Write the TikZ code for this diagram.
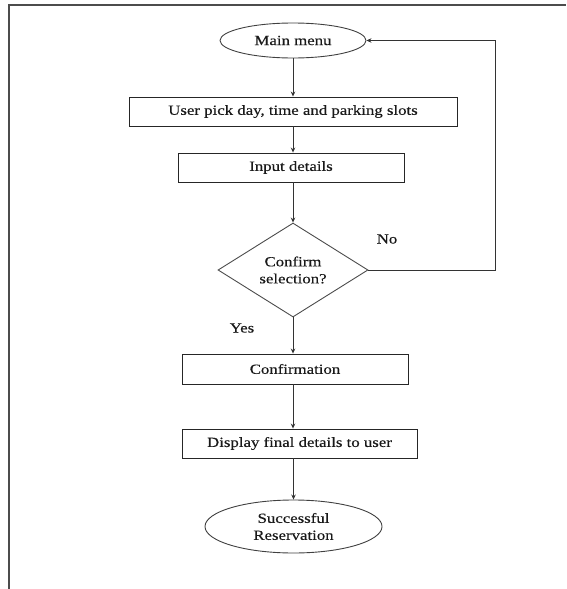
\documentclass[tikz,border=0pt]{standalone}
\usepackage{fontspec}
\setmainfont{Liberation Serif}[FakeStretch=1.2, FakeBold=0.3]
\usetikzlibrary{arrows.meta,shapes.geometric}
\begin{document}
\begin{tikzpicture}[x=1pt,y=-1pt,
  every node/.style={font=\fontsize{14}{17}\selectfont, text=black!90},
  proc/.style={draw=black!85, line width=0.9pt, minimum height=29pt, inner sep=0pt},
  term/.style={ellipse, draw=black!75, line width=0.9pt, inner sep=0pt, align=center},
  decide/.style={diamond, draw=black!70, line width=0.9pt, inner sep=0pt, aspect=1.6,
                 minimum width=150pt, minimum height=94pt, align=center},
  flow/.style={draw=black!80, line width=0.9pt, -{Stealth[length=5pt,width=4.5pt]}},
  lbl/.style={inner sep=0pt}]

  % page frame (top and left edges)
  \useasboundingbox (0,0) rectangle (566,589);
  \draw[black!70, line width=1.4pt] (9,589) -- (9,5) -- (566,5);

  % flowchart nodes
  \node[term, minimum width=146pt, minimum height=35pt] (main) at (293,40.5) {Main menu};
  \node[proc, minimum width=328pt] (pick) at (293,111.5) {User pick day, time and parking slots};
  \node[proc, minimum width=226pt] (input) at (291,167.5) {Input details};
  \node[decide] (dec) at (293,270) {Confirm\\selection?};
  \node[proc, minimum width=226pt, minimum height=30pt] (conf) at (295,369) {Confirmation};
  \node[proc, minimum width=235pt] (disp) at (299.5,443.5) {Display final details to user};
  \node[term, minimum width=177pt, minimum height=53pt] (done) at (293.5,526.5) {Successful\\Reservation};

  % branch labels
  \node[lbl] (no) at (387,239) {No};
  \node[lbl] (yes) at (242,328) {Yes};

  % connectors
  \draw[flow] (main.south) -- (main.south |- pick.north);
  \draw[flow] (main.south |- pick.south) -- (main.south |- input.north);
  \draw[flow] (dec.north |- input.south) -- (dec.north);
  \draw[flow] (dec.south) -- (dec.south |- conf.north);
  \draw[flow] (dec.south |- conf.south) -- (dec.south |- disp.north);
  \draw[flow] (done.north |- disp.south) -- (done.north);

  % "No" branch back to the main menu
  \coordinate (turn) at (495,40.5);
  \draw[flow] (dec.east) -| (turn) -- (main.east);
\end{tikzpicture}
\end{document}
